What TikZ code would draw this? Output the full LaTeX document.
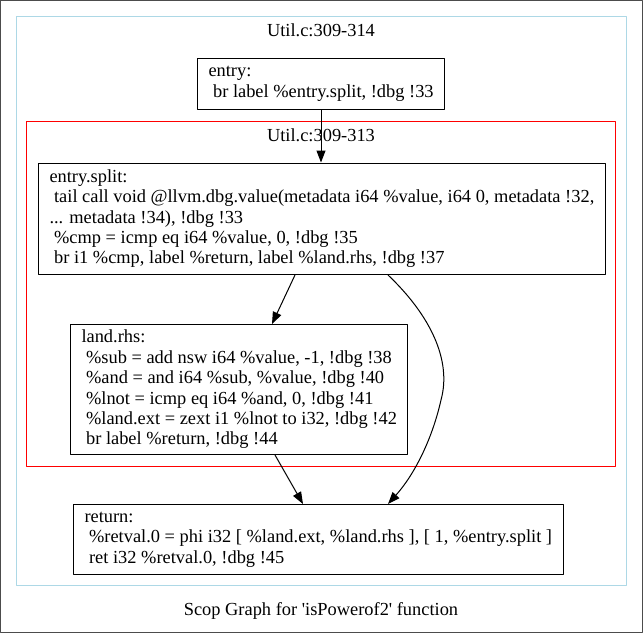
\documentclass[tikz,border=0pt]{standalone}
\usepackage{fontspec}
\setmainfont{Liberation Serif}
\usetikzlibrary{arrows.meta}
\definecolor{clusterblue}{rgb}{0.678,0.847,0.902}
\definecolor{clusterred}{rgb}{1.,0.,0.}
\definecolor{framegray}{rgb}{0.3,0.3,0.3}
\newcommand\ind{\mbox{}\ }

\begin{document}
\begin{tikzpicture}[line cap=round,line join=round,>={Triangle[length=12pt,width=9pt]},x=1.0pt,y=-1.0pt,
	txt/.style={font=\fontsize{18.4}{20.4}\selectfont},
	blk/.style={txt,draw,line width=1pt,anchor=north west,align=left,inner xsep=11pt,inner ysep=0pt},
	edge/.style={->,line width=1pt}]
	\useasboundingbox (0,0) rectangle (643,633);
	\draw[framegray,line width=1.2pt] (0.5,0.5) rectangle (642.5,632.5);
	% clusters
	\draw[clusterblue,line width=1pt] (16,16) rectangle (626,585);
	\node[txt] (outerlbl) at (321,30) {Util.c:309-314};
	\draw[clusterred,line width=1pt] (26,121) rectangle (615,466);
	\node[txt] (innerlbl) at (321,135) {Util.c:309-313};
	% blocks
	\node[blk,minimum height=51pt] (entry) at (197,58) {entry:\\\ind br label \%entry.split, !dbg !33};
	\node[blk,minimum height=111.5pt] (split) at (38,162.5) {entry.split:\\
		\ind tail call void @llvm.dbg.value(metadata i64 \%value, i64 0, metadata !32,\\
		... metadata !34), !dbg !33\\
		\ind \%cmp = icmp eq i64 \%value, 0, !dbg !35\\
		\ind br i1 \%cmp, label \%return, label \%land.rhs, !dbg !37};
	\node[blk,minimum height=130pt] (land) at (70,324) {land.rhs:\\
		\ind \%sub = add nsw i64 \%value, -1, !dbg !38\\
		\ind \%and = and i64 \%sub, \%value, !dbg !40\\
		\ind \%lnot = icmp eq i64 \%and, 0, !dbg !41\\
		\ind \%land.ext = zext i1 \%lnot to i32, !dbg !42\\
		\ind br label \%return, !dbg !44};
	\node[blk,minimum height=70pt] (ret) at (73,504) {return:\\
		\ind \%retval.0 = phi i32 [ \%land.ext, \%land.rhs ], [ 1, \%entry.split ]\\
		\ind ret i32 \%retval.0, !dbg !45};
	% edges
	\draw[edge] ([xshift=124]entry.south west) -- ([xshift=283]split.north west);
	\draw[edge] ([xshift=257]split.south west) -- ([xshift=202]land.north west);
	\draw[edge] ([xshift=350]split.south west) .. controls (430,315) and (452,360) .. (441,400)
		.. controls (432,440) and (414,475) .. ([xshift=315]ret.north west);
	\draw[edge] ([xshift=205]land.south west) -- ([xshift=230]ret.north west);
	\node[txt] (caption) at (321,611) {Scop Graph for \textquotesingle isPowerof2\textquotesingle{} function};
\end{tikzpicture}
\end{document}
